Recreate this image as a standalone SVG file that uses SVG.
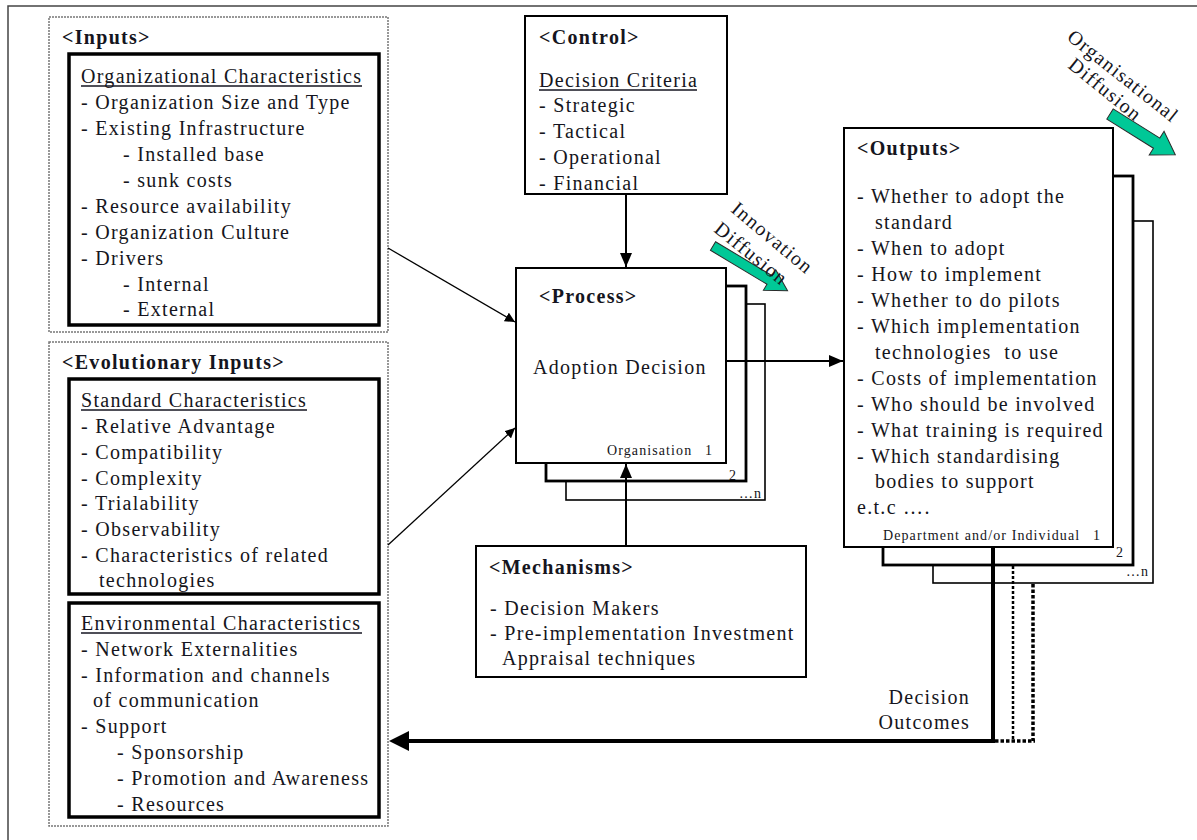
<svg xmlns="http://www.w3.org/2000/svg" width="1197" height="840" viewBox="0 0 1197 840">
  <style>
    .t { font-family: "Liberation Serif", "Times New Roman", serif; font-size: 20px; letter-spacing: 1.3px; fill: #151520; }
    .b { font-weight: bold; }
    .s { font-family: "Liberation Serif", "Times New Roman", serif; font-size: 14px; letter-spacing: 1.1px; fill: #151520; }
    .frame { fill: none; stroke: #444; stroke-width: 1.5; }
    .group { fill: none; stroke: #777; stroke-width: 1.5; stroke-dasharray: 2 1; }
    .box { fill: #fff; stroke: #000; stroke-width: 3.5; }
    .node { fill: #fff; stroke: #000; stroke-width: 2; }
    .stack2 { fill: #fff; stroke: #000; stroke-width: 2.8; }
    .stack3 { fill: #fff; stroke: #000; stroke-width: 1.6; }
    .ul { stroke: #151520; stroke-width: 1.3; }
    .thin { fill: none; stroke: #000; stroke-width: 1.3; }
    .mid { fill: none; stroke: #000; stroke-width: 2; }
    .diff { fill: #00c897; stroke: #2a2a2a; stroke-width: 1; }
  </style>
  <defs>
    <marker id="head" viewBox="0 0 10 10" refX="10" refY="5" markerWidth="10" markerHeight="10" markerUnits="userSpaceOnUse" orient="auto">
      <path d="M0,0 L10,5 L0,10 Z" fill="#000"/>
    </marker>
    <marker id="headL" viewBox="0 0 14 12" refX="14" refY="6" markerWidth="14" markerHeight="12" markerUnits="userSpaceOnUse" orient="auto">
      <path d="M0,0 L14,6 L0,12 Z" fill="#000"/>
    </marker>
  </defs>

  <rect width="1197" height="840" fill="#fff"/>
  <!-- page frame (top and left edges) -->
  <path class="frame" d="M8,840 V6 H1197"/>

  <!-- Inputs -->
  <g id="inputs">
    <rect class="group" x="49" y="17" width="339" height="315"/>
    <text class="t b" x="62" y="44">&lt;Inputs&gt;</text>
    <rect class="box" x="69" y="54" width="310" height="271"/>
    <text class="t" x="81" y="83">Organizational Characteristics</text>
    <line class="ul" x1="81" y1="86" x2="362" y2="86"/>
    <text class="t" x="81" y="109">- Organization Size and Type</text>
    <text class="t" x="81" y="135">- Existing Infrastructure</text>
    <text class="t" x="123" y="161">- Installed base</text>
    <text class="t" x="123" y="187">- sunk costs</text>
    <text class="t" x="81" y="213">- Resource availability</text>
    <text class="t" x="81" y="239">- Organization Culture</text>
    <text class="t" x="81" y="265">- Drivers</text>
    <text class="t" x="123" y="291">- Internal</text>
    <text class="t" x="123" y="316">- External</text>
  </g>

  <!-- Evolutionary Inputs -->
  <g id="evolutionary-inputs">
    <rect class="group" x="49" y="342" width="339" height="484"/>
    <text class="t b" x="62" y="369">&lt;Evolutionary Inputs&gt;</text>
    <rect class="box" x="69" y="379" width="310" height="215"/>
    <text class="t" x="81" y="407">Standard Characteristics</text>
    <line class="ul" x1="81" y1="410" x2="307" y2="410"/>
    <text class="t" x="81" y="433">- Relative Advantage</text>
    <text class="t" x="81" y="459">- Compatibility</text>
    <text class="t" x="81" y="485">- Complexity</text>
    <text class="t" x="81" y="510">- Trialability</text>
    <text class="t" x="81" y="536">- Observability</text>
    <text class="t" x="81" y="562">- Characteristics of related</text>
    <text class="t" x="99" y="587">technologies</text>
    <rect class="box" x="69" y="603" width="310" height="214"/>
    <text class="t" x="81" y="630">Environmental Characteristics</text>
    <line class="ul" x1="81" y1="633" x2="362" y2="633"/>
    <text class="t" x="81" y="656">- Network Externalities</text>
    <text class="t" x="81" y="682">- Information and channels</text>
    <text class="t" x="93" y="707">of communication</text>
    <text class="t" x="81" y="733">- Support</text>
    <text class="t" x="117" y="759">- Sponsorship</text>
    <text class="t" x="117" y="785">- Promotion and Awareness</text>
    <text class="t" x="117" y="811">- Resources</text>
  </g>

  <!-- Control -->
  <g id="control">
    <rect class="node" x="525" y="16" width="202" height="178"/>
    <text class="t b" x="539" y="44">&lt;Control&gt;</text>
    <text class="t" x="539" y="87">Decision Criteria</text>
    <line class="ul" x1="539" y1="90" x2="697" y2="90"/>
    <text class="t" x="539" y="112">- Strategic</text>
    <text class="t" x="539" y="138">- Tactical</text>
    <text class="t" x="539" y="164">- Operational</text>
    <text class="t" x="539" y="190">- Financial</text>
  </g>

  <!-- Process (stack of organisations) -->
  <g id="process">
    <rect class="stack3" x="566" y="304" width="199" height="196"/>
    <rect class="stack2" x="546" y="286" width="200" height="195"/>
    <rect class="node" x="516" y="268" width="210" height="195"/>
    <text class="t b" x="539" y="303">&lt;Process&gt;</text>
    <text class="t" x="533" y="374">Adoption Decision</text>
    <text class="s" x="607" y="455">Organisation</text>
    <text class="s" x="705" y="455">1</text>
    <text class="s" x="729" y="480">2</text>
    <text class="s" x="739" y="498">…n</text>
  </g>

  <!-- Mechanisms -->
  <g id="mechanisms">
    <rect class="node" x="476" y="546" width="330" height="131"/>
    <text class="t b" x="489" y="574">&lt;Mechanisms&gt;</text>
    <text class="t" x="490" y="615">- Decision Makers</text>
    <text class="t" x="490" y="640">- Pre-implementation Investment</text>
    <text class="t" x="502" y="665">Appraisal techniques</text>
  </g>

  <!-- Outputs (stack of departments / individuals) -->
  <g id="outputs">
    <rect class="stack3" x="933" y="221" width="220" height="362"/>
    <rect class="stack2" x="883" y="176" width="250" height="389"/>
    <rect class="node" x="844" y="128" width="269" height="419"/>
    <text class="t b" x="857" y="155">&lt;Outputs&gt;</text>
    <text class="t" x="857" y="203">- Whether to adopt the</text>
    <text class="t" x="875" y="229">standard</text>
    <text class="t" x="857" y="255">- When to adopt</text>
    <text class="t" x="857" y="281">- How to implement</text>
    <text class="t" x="857" y="307">- Whether to do pilots</text>
    <text class="t" x="857" y="333">- Which implementation</text>
    <text class="t" x="875" y="359" xml:space="preserve">technologies  to use</text>
    <text class="t" x="857" y="385">- Costs of implementation</text>
    <text class="t" x="857" y="411">- Who should be involved</text>
    <text class="t" x="857" y="437">- What training is required</text>
    <text class="t" x="857" y="463">- Which standardising</text>
    <text class="t" x="875" y="488">bodies to support</text>
    <text class="t" x="857" y="514">e.t.c ….</text>
    <text class="s" x="883" y="540">Department and/or Individual</text>
    <text class="s" x="1093" y="540">1</text>
    <text class="s" x="1116" y="557">2</text>
    <text class="s" x="1126" y="576">…n</text>
  </g>

  <!-- Diffusion indicators -->
  <g id="innovation-diffusion">
    <polygon class="diff" transform="translate(713,246) rotate(31)" points="0,-5 66,-5 66,-12 87,0 66,12 66,5 0,5"/>
    <text class="t" transform="translate(730,211) rotate(40)">Innovation</text>
    <text class="t" transform="translate(713,231) rotate(39)">Diffusion</text>
  </g>
  <g id="organisational-diffusion">
    <polygon class="diff" transform="translate(1110,114) rotate(32)" points="0,-6 55,-6 55,-14 77,0 55,14 55,6 0,6"/>
    <text class="t" transform="translate(1066,39) rotate(38.5)">Organisational</text>
    <text class="t" transform="translate(1067,67) rotate(39)">Diffusion</text>
  </g>

  <!-- Connectors -->
  <g id="connectors">
    <line class="thin" x1="388" y1="248" x2="515" y2="322" marker-end="url(#head)"/>
    <line class="thin" x1="388" y1="545" x2="515" y2="428" marker-end="url(#head)"/>
    <line class="mid" x1="626" y1="194" x2="626" y2="267" marker-end="url(#headL)"/>
    <line class="mid" x1="626" y1="546" x2="626" y2="464" marker-end="url(#headL)"/>
    <line class="mid" x1="726" y1="361" x2="843" y2="361" marker-end="url(#headL)"/>
    <!-- decision outcomes feedback -->
    <path d="M993,547 V741 H405" fill="none" stroke="#000" stroke-width="4"/>
    <polygon points="389,741 409,731 409,751" fill="#000"/>
    <line x1="1013" y1="566" x2="1013" y2="741" stroke="#000" stroke-width="2.5" stroke-dasharray="3 2"/>
    <line x1="1033" y1="584" x2="1033" y2="741" stroke="#000" stroke-width="3.5" stroke-dasharray="3.5 2"/>
    <line x1="995" y1="741" x2="1035" y2="741" stroke="#000" stroke-width="3.5" stroke-dasharray="3.5 2"/>
    <text class="t" x="970" y="704" text-anchor="end">Decision</text>
    <text class="t" x="970" y="729" text-anchor="end">Outcomes</text>
  </g>
</svg>
